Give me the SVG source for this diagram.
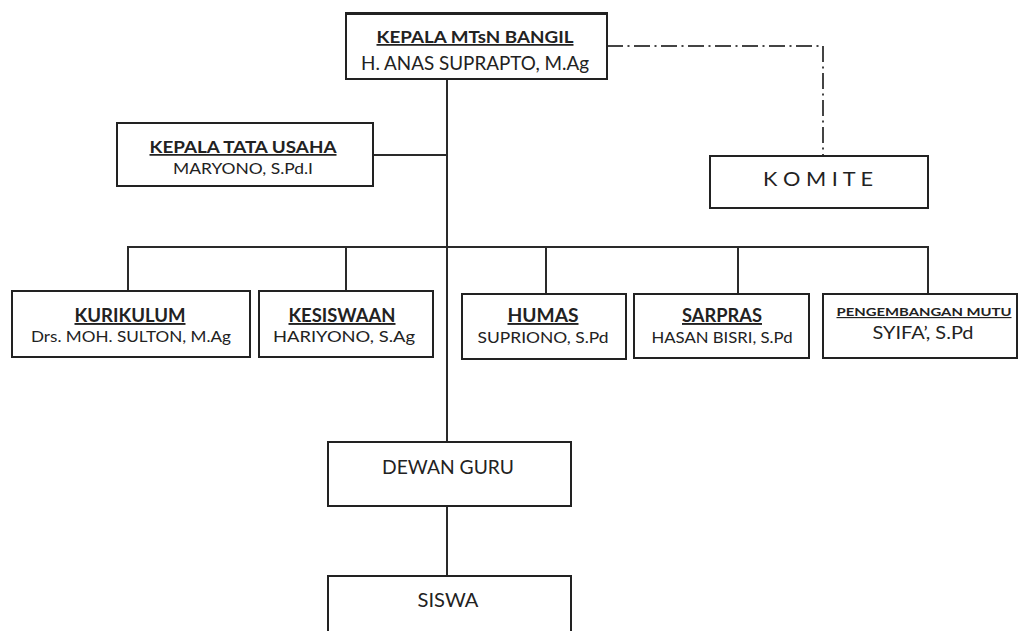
<svg xmlns="http://www.w3.org/2000/svg" width="1019" height="631" viewBox="0 0 1019 631">
<style>
.box{fill:#fff;stroke:#222;stroke-width:2}
.t{font-family:Lato,"Open Sans","Liberation Sans",sans-serif;fill:#222;text-anchor:middle}
.b{font-weight:bold;text-decoration:underline}
.ln{fill:none;stroke:#2a2a2a;stroke-width:2}
.dash{fill:none;stroke:#444;stroke-width:2;stroke-dasharray:16 4.5 2 4.5}
</style>
<rect width="1019" height="631" fill="#fff"/>
<g id="connectors">
<path class="ln" d="M447 79V442"/>
<path class="ln" d="M373 155H447"/>
<path class="ln" d="M128 291V247H928V294"/>
<path class="ln" d="M346 247V291"/>
<path class="ln" d="M546 247V294"/>
<path class="ln" d="M738 247V294"/>
<path class="ln" d="M447 506V576"/>
<path class="dash" d="M607 46H823V156"/>
</g>
<g id="kepala">
<rect class="box" x="346" y="13" width="261" height="66"/>
<path d="M346 13.5H607" stroke="#222" stroke-width="3"/>
<text class="t b" x="475" y="43" font-size="17.5" textLength="197" lengthAdjust="spacingAndGlyphs">KEPALA MTsN BANGIL</text>
<text class="t" x="475" y="70" font-size="18.5" textLength="228" lengthAdjust="spacingAndGlyphs">H. ANAS SUPRAPTO, M.Ag</text>
</g>
<g id="tatausaha">
<rect class="box" x="117" y="123" width="256" height="63"/>
<text class="t b" x="243" y="153" font-size="17.5" textLength="187" lengthAdjust="spacingAndGlyphs">KEPALA TATA USAHA</text>
<text class="t" x="243" y="174" font-size="15.5" textLength="140" lengthAdjust="spacingAndGlyphs">MARYONO, S.Pd.I</text>
</g>
<g id="komite">
<rect class="box" x="710" y="156" width="218" height="52"/>
<text class="t" x="818" y="186" font-size="20" textLength="110" lengthAdjust="spacingAndGlyphs">K O M I T E</text>
</g>
<g id="kurikulum">
<rect class="box" x="12" y="291" width="238" height="66"/>
<text class="t b" x="130" y="322" font-size="19" textLength="111" lengthAdjust="spacingAndGlyphs">KURIKULUM</text>
<text class="t" x="131" y="342" font-size="15" textLength="200" lengthAdjust="spacingAndGlyphs">Drs. MOH. SULTON, M.Ag</text>
</g>
<g id="kesiswaan">
<rect class="box" x="259" y="291" width="174" height="66"/>
<text class="t b" x="342" y="322" font-size="19" textLength="107" lengthAdjust="spacingAndGlyphs">KESISWAAN</text>
<text class="t" x="344" y="342" font-size="15" textLength="142" lengthAdjust="spacingAndGlyphs">HARIYONO, S.Ag</text>
</g>
<g id="humas">
<rect class="box" x="462" y="294" width="164" height="65"/>
<text class="t b" x="543" y="322" font-size="19" textLength="71" lengthAdjust="spacingAndGlyphs">HUMAS</text>
<text class="t" x="543" y="343" font-size="15" textLength="131" lengthAdjust="spacingAndGlyphs">SUPRIONO, S.Pd</text>
</g>
<g id="sarpras">
<rect class="box" x="634" y="294" width="175" height="64"/>
<text class="t b" x="722" y="322" font-size="19" textLength="80" lengthAdjust="spacingAndGlyphs">SARPRAS</text>
<text class="t" x="722" y="343" font-size="15" textLength="141" lengthAdjust="spacingAndGlyphs">HASAN BISRI, S.Pd</text>
</g>
<g id="pengembangan">
<rect class="box" x="823" y="294" width="194" height="64"/>
<text class="t b" x="924" y="316" font-size="11.6" textLength="175" lengthAdjust="spacingAndGlyphs">PENGEMBANGAN MUTU</text>
<text class="t" x="923" y="339" font-size="17.5" textLength="101" lengthAdjust="spacingAndGlyphs">SYIFA’, S.Pd</text>
</g>
<g id="dewanguru">
<rect class="box" x="328" y="442" width="243" height="64"/>
<text class="t" x="448" y="474" font-size="20" textLength="132" lengthAdjust="spacingAndGlyphs">DEWAN GURU</text>
</g>
<g id="siswa">
<rect class="box" x="328" y="576" width="243" height="64"/>
<text class="t" x="448" y="607" font-size="19.5" textLength="61" lengthAdjust="spacingAndGlyphs">SISWA</text>
</g>
</svg>
